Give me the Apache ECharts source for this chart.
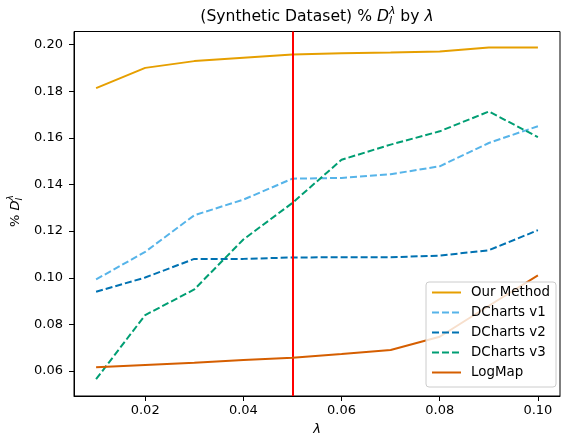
<!DOCTYPE html>
<html>
<head>
<meta charset="utf-8">
<script src="https://cdn.jsdelivr.net/npm/echarts@6/dist/echarts.min.js"></script>
<style>
html,body{margin:0;padding:0;background:#fff;}
#chart{width:561px;height:440px;}
</style>
</head>
<body>
<div id="chart"></div>
<script>
// ---- data ----
const lambdas = [0.01, 0.02, 0.03, 0.04, 0.05, 0.06, 0.07, 0.08, 0.09, 0.10];
const ourMethod  = [0.1813, 0.1900, 0.1929, 0.1943, 0.1957, 0.1963, 0.1966, 0.1970, 0.1987, 0.1987];
const dchartsV1  = [0.0993, 0.1111, 0.1268, 0.1335, 0.1425, 0.1428, 0.1444, 0.1478, 0.1578, 0.1650];
const dchartsV2  = [0.0940, 0.1001, 0.1081, 0.1081, 0.1087, 0.1088, 0.1088, 0.1095, 0.1118, 0.1204];
const dchartsV3  = [0.0565, 0.0840, 0.0950, 0.1164, 0.1321, 0.1506, 0.1571, 0.1628, 0.1713, 0.1603];
const logMap     = [0.0616, 0.0626, 0.0636, 0.0647, 0.0657, 0.0673, 0.0690, 0.0747, 0.0880, 0.1010];
const threshold = 0.05;
const xTicks = [0.02, 0.04, 0.06, 0.08, 0.10];
const yTicks = [0.06, 0.08, 0.10, 0.12, 0.14, 0.16, 0.18, 0.20];
const seriesNames = ['Our Method', 'DCharts v1', 'DCharts v2', 'DCharts v3', 'LogMap'];

// ---- styles ----
const FONT = '"DejaVu Sans", sans-serif';
const colors = ['#E69F00', '#56B4E9', '#0072B2', '#009E73', '#D55E00'];
const dashed = [false, true, true, true, false];
const values = [ourMethod, dchartsV1, dchartsV2, dchartsV3, logMap];

const measureCtx = document.createElement('canvas').getContext('2d');
function textWidth(t, font) { measureCtx.font = font; return measureCtx.measureText(t).width; }

// Lay out mathtext-like pieces horizontally, centered on 0
function buildPieces(pieces) {
  let x = 0;
  const els = [];
  pieces.forEach(p => {
    if (p.stack) {
      let w = 0;
      p.stack.forEach(s => {
        w = Math.max(w, textWidth(s.text, s.font));
        els.push({ type: 'text', x: x, y: s.dy, style: { text: s.text, font: s.font, fill: '#000', align: 'left', verticalAlign: 'middle' } });
      });
      x += w;
    } else {
      els.push({ type: 'text', x: x, y: p.dy || 0, style: { text: p.text, font: p.font, fill: '#000', align: 'left', verticalAlign: 'middle' } });
      x += textWidth(p.text, p.font);
    }
  });
  els.forEach(e => { e.x -= x / 2; });
  return els;
}

const tSize = 15.6, aSize = 13;
const titleEls = buildPieces([
  { text: '(Synthetic Dataset) % ', font: tSize + 'px ' + FONT },
  { text: 'D', font: 'italic ' + tSize + 'px ' + FONT },
  { stack: [
      { text: 'λ', font: 'italic ' + (tSize * 0.7) + 'px ' + FONT, dy: -6 },
      { text: 'l', font: 'italic ' + (tSize * 0.7) + 'px ' + FONT, dy: 4 }
  ] },
  { text: ' by ', font: tSize + 'px ' + FONT },
  { text: 'λ', font: 'italic ' + tSize + 'px ' + FONT }
]);
const yLabelEls = buildPieces([
  { text: '% ', font: aSize + 'px ' + FONT },
  { text: 'D', font: 'italic ' + aSize + 'px ' + FONT },
  { stack: [
      { text: 'λ', font: 'italic ' + (aSize * 0.7) + 'px ' + FONT, dy: -5 },
      { text: 'l', font: 'italic ' + (aSize * 0.7) + 'px ' + FONT, dy: 3.5 }
  ] }
]);

const series = seriesNames.map((name, i) => ({
  name: name,
  type: 'line',
  symbol: 'none',
  data: lambdas.map((x, j) => [x, values[i][j]]),
  lineStyle: { color: colors[i], width: 2, type: dashed[i] ? [7, 3] : 'solid' },
  itemStyle: { color: colors[i] },
  z: 2 + i
}));
series.push({
  name: 'threshold',
  type: 'line',
  data: [],
  silent: true,
  markLine: {
    symbol: 'none',
    silent: true,
    label: { show: false },
    lineStyle: { color: '#ff0000', width: 2, type: 'solid' },
    data: [{ xAxis: threshold }]
  },
  z: 10
});

const chart = echarts.init(document.getElementById('chart'), null, { renderer: 'canvas' });
chart.setOption({
  animation: false,
  backgroundColor: '#fff',
  grid: { left: 74, top: 31.5, right: 1, bottom: 44, show: true, borderColor: '#000', borderWidth: 1, backgroundColor: 'transparent' },
  xAxis: {
    type: 'value', min: 0.0055, max: 0.1045,
    axisLine: { show: true, lineStyle: { color: '#000', width: 1 } },
    axisTick: { show: true, inside: false, length: 5, lineStyle: { color: '#000' }, customValues: xTicks },
    axisLabel: { show: true, margin: 8, color: '#000', fontFamily: FONT, fontSize: 13, customValues: xTicks, formatter: v => v.toFixed(2) },
    splitLine: { show: false }
  },
  yAxis: {
    type: 'value', min: 0.0493, max: 0.2056,
    axisLine: { show: true, lineStyle: { color: '#000', width: 1 } },
    axisTick: { show: true, inside: false, length: 5, lineStyle: { color: '#000' }, customValues: yTicks },
    axisLabel: { show: true, margin: 11, color: '#000', fontFamily: FONT, fontSize: 13, customValues: yTicks, formatter: v => v.toFixed(2) },
    splitLine: { show: false }
  },
  legend: {
    data: seriesNames,
    orient: 'vertical',
    left: 426, top: 282,
    padding: [4, 6, 8, 5],
    itemWidth: 29, itemHeight: 14, itemGap: 7,
    itemStyle: { opacity: 0 },
    lineStyle: { width: 2 },
    backgroundColor: 'rgba(255,255,255,0.8)',
    borderColor: '#cccccc', borderWidth: 1, borderRadius: 3,
    textStyle: { color: '#000', fontFamily: FONT, fontSize: 13.4, padding: [0, 0, 0, 5] },
    z: 20
  },
  graphic: [
    { type: 'group', x: 317, y: 17, children: titleEls },
    { type: 'group', x: 16, y: 211, rotation: Math.PI / 2, children: yLabelEls },
    { type: 'text', x: 317, y: 430, style: { text: 'λ', font: 'italic 13px ' + FONT, fill: '#000', align: 'center', verticalAlign: 'middle' } }
  ],
  series: series
});
</script>
</body>
</html>
